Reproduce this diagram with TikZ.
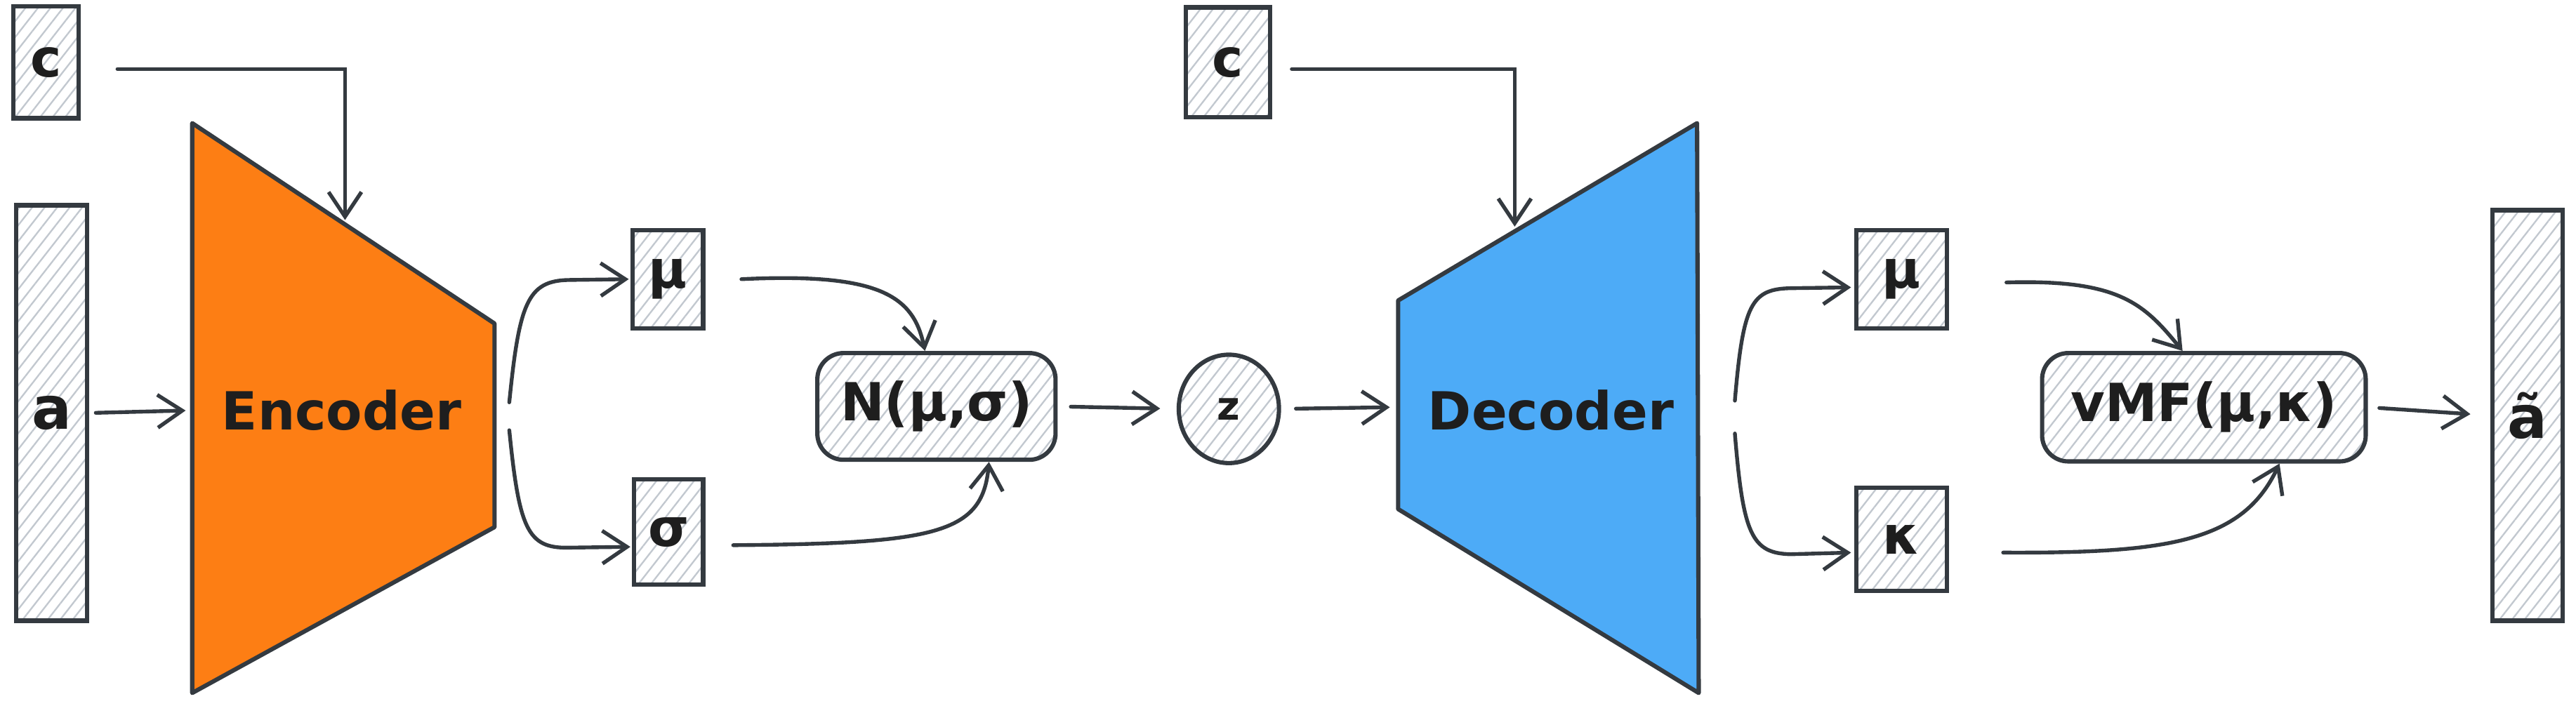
\documentclass[tikz,border=0pt]{standalone}
\usepackage{fontspec}
\setmainfont{DejaVu Sans}
\usetikzlibrary{arrows.meta,patterns.meta,shapes.geometric}
\definecolor{ink}{HTML}{343A40}
\definecolor{hatch}{HTML}{C2C8CF}
\definecolor{encfill}{HTML}{FD7E14}
\definecolor{decfill}{HTML}{4DABF7}
\definecolor{txt}{HTML}{1E1E1E}
\tikzset{
  hbox/.style={draw=ink, line width=2.6pt, rectangle, inner sep=0pt,
    pattern={Lines[angle=52,distance=6pt,line width=1pt]}, pattern color=hatch,
    text=txt, font=\bfseries\fontsize{32}{38}\selectfont},
  rbox/.style={hbox, rounded corners=16pt},
  oval/.style={hbox, ellipse, rounded corners=0pt},
  trap/.style={draw=ink, line width=2.6pt, line join=round},
  lbl/.style={text=txt, font=\bfseries\fontsize{32}{38}\selectfont},
  conn/.style={draw=ink, line width=2.3pt, line cap=round,
    -{Straight Barb[length=15pt,width=20pt,line width=2.3pt]}},
}
\begin{document}
\begin{tikzpicture}[x=1pt,y=-1pt]
\useasboundingbox (0,0) rectangle (1568,434);
% encoder / decoder bodies
\filldraw[trap, fill=encfill] (117,75) -- (301,197) -- (301,321) -- (117,422) -- cycle;
\node[lbl] (enc) at (208,250) {Encoder};
\filldraw[trap, fill=decfill] (851,183) -- (1033,75) -- (1034,422) -- (851,310) -- cycle;
\node[lbl] (dec) at (944,250) {Decoder};
\coordinate (encIn) at (113,250);
\coordinate (encTop) at (210,134);
\coordinate (encOutU) at (310,245);
\coordinate (encOutD) at (310,262);
\coordinate (decIn) at (846,248);
\coordinate (decTop) at (922,138);
\coordinate (decOutU) at (1056,244);
\coordinate (decOutD) at (1056,264);
% boxes
\node[hbox, minimum width=40pt, minimum height=68pt] (c1) at (28,38) {c};
\node[hbox, minimum width=43pt, minimum height=253pt, font=\bfseries\fontsize{36}{40}\selectfont] (a1) at (31.5,251.5) {a};
\node[hbox, minimum width=43pt, minimum height=60pt] (mu1) at (406.5,170) {μ};
\node[hbox, minimum width=42pt, minimum height=64pt] (sg1) at (407,324) {σ};
\node[rbox, minimum width=145pt, minimum height=65pt] (N) at (570,247.5) {N(μ,σ)};
\node[oval, minimum width=61pt, minimum height=66pt, font=\bfseries\fontsize{24}{30}\selectfont] (z) at (748,249) {z};
\node[hbox, minimum width=51pt, minimum height=67pt] (c2) at (747.5,38) {c};
\node[hbox, minimum width=55pt, minimum height=60pt] (mu2) at (1157.5,170) {μ};
\node[hbox, minimum width=55pt, minimum height=63pt] (kp2) at (1157.5,328.5) {κ};
\node[rbox, minimum width=197pt, minimum height=66pt] (V) at (1341.5,248) {vMF(μ,κ)};
\node[hbox, minimum width=43pt, minimum height=250pt, font=\bfseries\fontsize{36}{40}\selectfont] (at) at (1538.5,253) {ã};
% connectors
\draw[conn, shorten <=4pt] (a1.east) -- (encIn);
\draw[conn] ([shift={(23,4)}]c1.east) -| (encTop);
\draw[conn] (encOutU) .. controls (316,185) and (321,171) .. (346,170.5) -- ([xshift=-1pt]mu1.west);
\draw[conn] (encOutD) .. controls (316,322) and (321,334) .. (346,333.5) -- ([shift={(-1,9)}]sg1.west);
\draw[conn] ([xshift=22pt]mu1.east) .. controls (535,166) and (556,180) .. ([xshift=-7pt]N.north);
\draw[conn] ([shift={(17,8)}]sg1.east) .. controls (570,331) and (598,325) .. ([xshift=32pt]N.south);
\draw[conn, shorten <=8pt, shorten >=10pt] (N.east) -- (z.west);
\draw[conn, shorten <=9pt] (z.east) -- (decIn);
\draw[conn] ([shift={(12,4)}]c2.east) -| (decTop);
\draw[conn] (decOutU) .. controls (1061,185) and (1066,176) .. (1090,175.5) -- ([shift={(-2,5)}]mu2.west);
\draw[conn] (decOutD) .. controls (1061,325) and (1066,337) .. (1090,337.5) -- ([shift={(-2,8)}]kp2.west);
\draw[conn] ([shift={(35,2)}]mu2.east) .. controls (1290,170) and (1305,185) .. ([xshift=-13pt]V.north);
\draw[conn] ([shift={(33,8)}]kp2.east) .. controls (1320,337) and (1365,330) .. ([xshift=46pt]V.south);
\draw[conn, shorten <=7pt, shorten >=12pt] (V.east) -- (at.west);
\end{tikzpicture}
\end{document}
